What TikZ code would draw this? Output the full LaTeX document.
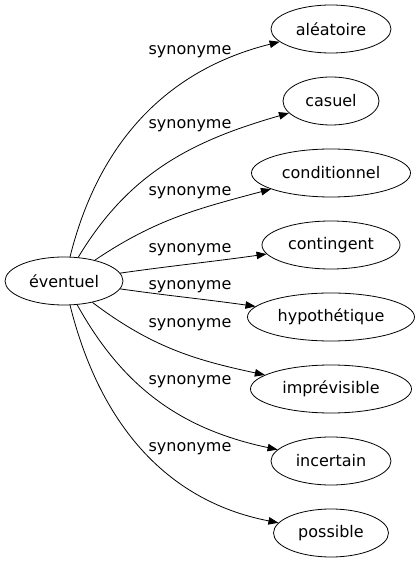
\documentclass[tikz,border=0pt]{standalone}
\usepackage{fontspec}
\setmainfont{DejaVu Sans}
\usetikzlibrary{arrows.meta, shapes.geometric}
\tikzset{
>={Triangle[length=10pt,width=7.5pt]}, % filled arrow heads
word/.style={ellipse, draw, inner sep=0pt, minimum height=48pt, font=\fontsize{16}{19}\selectfont}, % every word node
lbl/.style={inner sep=1pt, font=\fontsize{16}{19}\selectfont}, % edge labels
every path/.style={line width=0.8pt},
}

\begin{document}
\begin{tikzpicture}[x=1pt,y=1pt]
  \useasboundingbox (0,0) rectangle (420,563);
  \node[word, minimum width=118pt] (w0) at (64,282) {éventuel};
  \node[word, minimum width=120pt] (w1) at (331,534) {aléatoire};
  \node[word, minimum width=96pt] (w2) at (331,462) {casuel};
  \node[word, minimum width=159pt] (w3) at (331,390) {conditionnel};
  \node[word, minimum width=138pt] (w4) at (331,318) {contingent};
  \node[word, minimum width=167pt] (w5) at (331,246) {hypothétique};
  \node[word, minimum width=161pt] (w6) at (331,174) {imprévisible};
  \node[word, minimum width=120pt] (w7) at (331,102) {incertain};
  \node[word, minimum width=115pt] (w8) at (331,30) {possible};

  \node[lbl] (l1) at (190,511) {synonyme};
  \node[lbl] (l2) at (190,437) {synonyme};
  \node[lbl] (l3) at (190,370) {synonyme};
  \node[lbl] (l4) at (190,313) {synonyme};
  \node[lbl] (l5) at (190,276) {synonyme};
  \node[lbl] (l6) at (190,238) {synonyme};
  \node[lbl] (l7) at (190,181) {synonyme};
  \node[lbl] (l8) at (190,114) {synonyme};

  \path[->]
  (w0) edge[out=76, in=194] (w1)
  (w0) edge[out=59, in=196] (w2)
  (w0) edge[out=34, in=195] (w3)
  (w0) edge[out=8, in=188] (w4)
  (w0) edge[out=-8, in=172] (w5)
  (w0) edge[out=-37, in=168] (w6)
  (w0) edge[out=-61, in=168] (w7)
  (w0) edge[out=-76, in=169] (w8);
\end{tikzpicture}
\end{document}
